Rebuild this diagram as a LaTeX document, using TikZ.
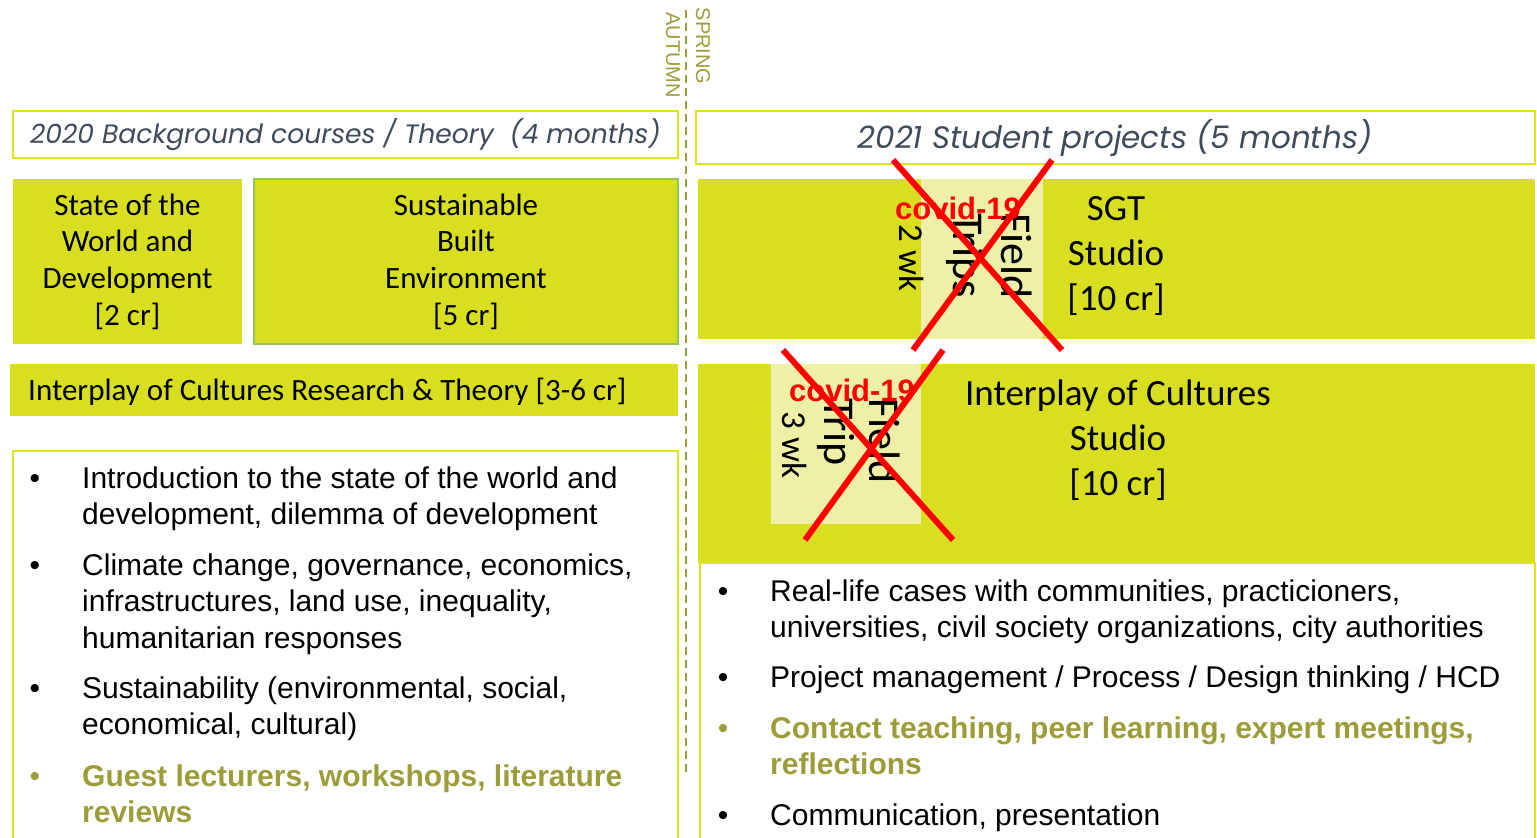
\documentclass[tikz,border=0pt]{standalone}
\usepackage{fontspec}
\setmainfont{Liberation Sans}
\newfontfamily\boxfont{Carlito}
\newfontfamily\headfont{Poppins}
\usetikzlibrary{positioning}

\definecolor{limefill}{HTML}{D9DF20}
\definecolor{palefill}{HTML}{EEF0A8}
\definecolor{limeline}{HTML}{DDE31C}
\definecolor{greenline}{HTML}{8DC855}
\definecolor{olivetext}{HTML}{9C9C3A}
\definecolor{slatetext}{HTML}{3F4B5B}

\begin{document}
\begin{tikzpicture}[x=1pt,y=-1pt]

\tikzstyle{lime} = [rectangle, fill=limefill, inner sep=0pt, outer sep=0pt, align=center, font=\boxfont\fontsize{31}{36.7}\selectfont];
\tikzstyle{pale} = [rectangle, fill=palefill, inner sep=0pt, outer sep=0pt];
\tikzstyle{header} = [rectangle, draw=limeline, line width=2pt, inner sep=0pt, outer sep=0pt];
\tikzstyle{headtext} = [inner sep=0pt, text=slatetext];
\tikzstyle{tripword} = [inner sep=0pt, rotate=-90, align=left, font=\boxfont\fontsize{44}{48}\selectfont];
\tikzstyle{weeks} = [inner sep=0pt, rotate=-90, font=\boxfont\fontsize{35}{35}\selectfont];
\tikzstyle{covid} = [inner sep=0pt, text=red, font=\bfseries\fontsize{31}{31}\selectfont];
\tikzstyle{studio} = [inner sep=0pt, align=center, font=\boxfont\fontsize{37}{45}\selectfont];
\tikzstyle{bul} = [inner sep=0pt, anchor=base, font=\fontsize{30}{36.5}\selectfont];
\tikzstyle{item} = [inner sep=0pt, anchor=base west, align=left, font=\fontsize{30}{36.5}\selectfont];
\tikzstyle{season} = [inner sep=0pt, rotate=-90, text=olivetext, font=\fontsize{20}{20}\selectfont];

\useasboundingbox (0,0) rectangle (1537,838);

% divider spring / autumn
\coordinate (divtop) at (686,10);
\coordinate (divbot) at (686,775);
\path (divtop) edge[-,line width=2.2pt,olivetext,dash pattern=on 8pt off 5pt] (divbot);
\node[season] at (703,46) (spring) {SPRING};
\node[season] at (673,55) (autumn) {AUTUMN};

% headers
\node[header, minimum width=665, minimum height=47, anchor=north west] at (13,111) (h1) {};
\node[headtext, anchor=west, font=\headfont\itshape\fontsize{26.6}{26.6}\selectfont] at (30,135) (h1t) {2020 Background courses / Theory \ (4 months)};
\node[header, minimum width=839, minimum height=53, anchor=north west] at (696,111) (h2) {};
\node[headtext, font=\headfont\itshape\fontsize{31}{31}\selectfont] at (1115,138) (h2t) {2021 Student projects (5 months)};

% 2020 courses
\node[lime, minimum width=229, minimum height=165, anchor=north west] at (13,179) (sotw) {State of the\\World and\\Development\\{[2 cr]}};
\node[lime, draw=greenline, line width=1.5pt, minimum width=424, minimum height=165, anchor=north west] at (254,179) (sbe) {Sustainable\\Built\\Environment\\{[5 cr]}};
\node[lime, minimum width=668, minimum height=52, anchor=north west] at (10,364) (icrt) {};
\node[inner sep=0pt, anchor=base west, font=\boxfont\fontsize{31}{31}\selectfont] at (28,400) (icrtt) {Interplay of Cultures Research \& Theory [3-6 cr]};

% 2021 studios
\node[lime, minimum width=837, minimum height=160, anchor=north west] at (698,179) (sgt) {};
\node[pale, minimum width=122, minimum height=160, anchor=north west] at (921,179) (trip1) {};
\node[studio] at (1116,256) (sgtt) {SGT\\Studio\\{[10 cr]}};
\node[lime, minimum width=837, minimum height=199, anchor=north west] at (698,364) (ioc) {};
\node[pale, minimum width=150, minimum height=160, anchor=north west] at (771,364) (trip2) {};
\node[studio] at (1118,440) (ioct) {Interplay of Cultures\\Studio\\{[10 cr]}};

% field trips
\node[tripword, anchor=north west] at (1032,213) (trip1t) {Field\\Trips};
\node[weeks] at (912,258) (trip1w) {2 wk};
\node[covid] at (958,208) (covid1) {covid-19};
\node[tripword, anchor=north west, font=\boxfont\fontsize{44}{45}\selectfont] at (900,398) (trip2t) {Field\\Trip};
\node[weeks] at (795,445) (trip2w) {3 wk};
\node[covid] at (852,390) (covid2) {covid-19};

% cancelled
\coordinate (xa1) at (893,160);
\coordinate (xb1) at (1062,350);
\coordinate (xc1) at (1052,160);
\coordinate (xd1) at (913,350);
\path (xa1) edge[-,red,line width=6pt] (xb1);
\path (xc1) edge[-,red,line width=6pt] (xd1);
\coordinate (xa2) at (783,350);
\coordinate (xb2) at (953,540);
\coordinate (xc2) at (943,350);
\coordinate (xd2) at (805,540);
\path (xa2) edge[-,red,line width=6pt] (xb2);
\path (xc2) edge[-,red,line width=6pt] (xd2);

% content boxes
\draw[limeline, line width=2pt] (13,845) -- (13,451) -- (678,451) -- (678,845);
\draw[limeline, line width=2pt] (700,845) -- (700,563) -- (1535,563) -- (1535,845);

% bullets (base anchor sits on the last line)
\node[bul] at (35,488) (lb1) {\textbullet};
\node[item] at (82,524.5) (li1) {Introduction to the state of the world and\\development, dilemma of development};
\node[bul] at (35,575) (lb2) {\textbullet};
\node[item] at (82,648) (li2) {Climate change, governance, economics,\\infrastructures, land use, inequality,\\humanitarian responses};
\node[bul] at (35,698) (lb3) {\textbullet};
\node[item] at (82,734.5) (li3) {Sustainability (environmental, social,\\economical, cultural)};
\node[bul, text=olivetext] at (35,786) (lb4) {\textbullet};
\node[item, text=olivetext, font=\bfseries\fontsize{30}{36.5}\selectfont] at (82,822.5) (li4) {Guest lecturers, workshops, literature\\reviews};

\node[bul] at (723,601) (rb1) {\textbullet};
\node[item] at (770,637.5) (ri1) {Real-life cases with communities, practicioners,\\universities, civil society organizations, city authorities};
\node[bul] at (723,687) (rb2) {\textbullet};
\node[item] at (770,687) (ri2) {Project management / Process / Design thinking / HCD};
\node[bul, text=olivetext] at (723,738) (rb3) {\textbullet};
\node[item, text=olivetext, font=\bfseries\fontsize{30}{36.5}\selectfont] at (770,774.5) (ri3) {Contact teaching, peer learning, expert meetings,\\reflections};
\node[bul] at (723,825) (rb4) {\textbullet};
\node[item] at (770,825) (ri4) {Communication, presentation};

\end{tikzpicture}
\end{document}
